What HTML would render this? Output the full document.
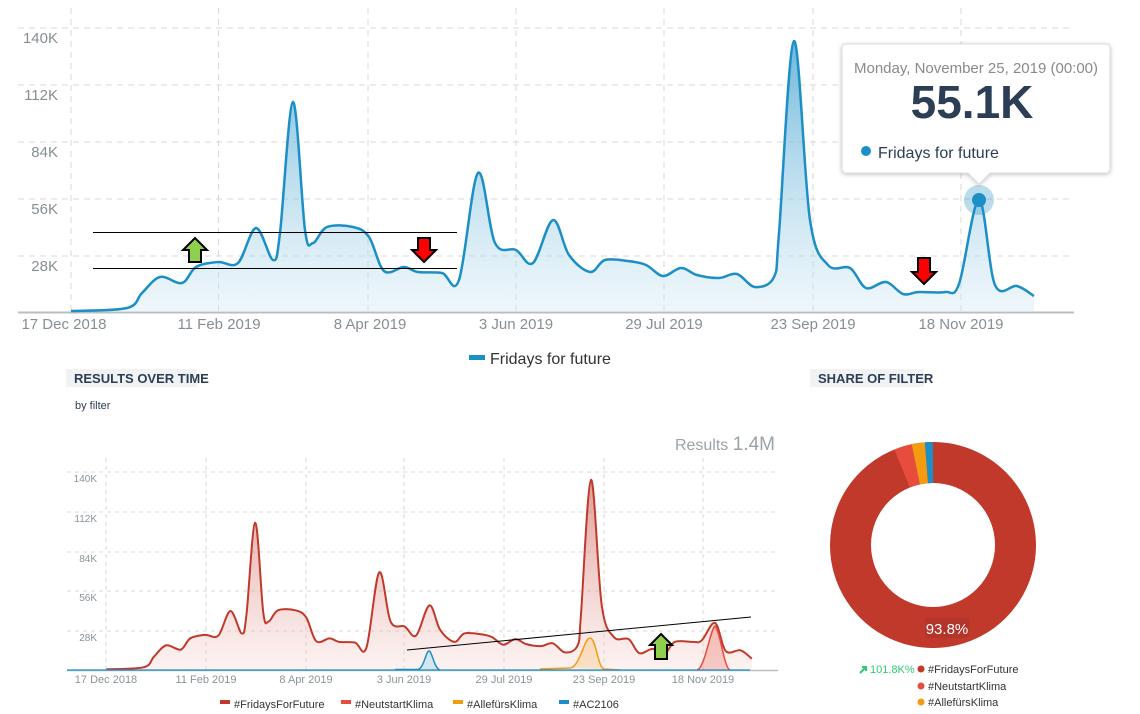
<!DOCTYPE html>
<html><head><meta charset="utf-8"><style>
body{margin:0;width:1140px;height:714px;background:#fff;overflow:hidden;font-family:"Liberation Sans",sans-serif}
svg{position:absolute;left:0;top:0}
</style></head><body>
<svg width="1140" height="714" viewBox="0 0 1140 714" xmlns="http://www.w3.org/2000/svg">
<defs>
<linearGradient id="gb" x1="0" y1="0" x2="0" y2="1"><stop offset="0" stop-color="#3d9fcf" stop-opacity="0.75"/><stop offset="1" stop-color="#cfe7f3" stop-opacity="0.35"/></linearGradient>
<linearGradient id="gr" x1="0" y1="0" x2="0" y2="1"><stop offset="0" stop-color="#c0392b" stop-opacity="0.5"/><stop offset="1" stop-color="#f5d5d2" stop-opacity="0.3"/></linearGradient>
<filter id="sh" x="-10%" y="-10%" width="120%" height="130%"><feDropShadow dx="0" dy="1" stdDeviation="2" flood-opacity="0.25"/></filter>
</defs>
<g stroke="#d8d8d8" stroke-dasharray="6,5" stroke-width="1">
<line x1="18" y1="28" x2="1074" y2="28"/><line x1="18" y1="85" x2="1074" y2="85"/><line x1="18" y1="142" x2="1074" y2="142"/><line x1="18" y1="199" x2="1074" y2="199"/><line x1="18" y1="256" x2="1074" y2="256"/>
<line x1="71" y1="8" x2="71" y2="312"/><line x1="218.5" y1="8" x2="218.5" y2="312"/><line x1="368" y1="8" x2="368" y2="312"/><line x1="516" y1="8" x2="516" y2="312"/><line x1="664" y1="8" x2="664" y2="312"/><line x1="813" y1="8" x2="813" y2="312"/><line x1="961" y1="8" x2="961" y2="312"/>
</g>
<line x1="18" y1="312.5" x2="1074" y2="312.5" stroke="#b8bec2" stroke-width="2"/>
<g font-size="15" fill="#858f94" text-anchor="end">
<text x="58" y="43">140K</text><text x="58" y="100">112K</text><text x="58" y="157">84K</text><text x="58" y="214">56K</text><text x="58" y="271">28K</text></g>
<g font-size="15" fill="#858f94" text-anchor="middle">
<text x="64" y="329">17 Dec 2018</text><text x="219" y="329">11 Feb 2019</text><text x="370" y="329">8 Apr 2019</text><text x="516" y="329">3 Jun 2019</text><text x="664" y="329">29 Jul 2019</text><text x="813" y="329">23 Sep 2019</text><text x="961" y="329">18 Nov 2019</text></g>
<path id="fb" d="M71,311 L127,308 L142,293 L160,277 L182,283 L196,267 L218,262 L238,263 L256,228 L273,260 L280,233 L293,102 L305,230 L313,243 L327,227 L353,227 L369,237 L384,271 L404,267 L418,272 L442,273 L459,280 L478,173 L495,243 L516,250 L533,263 L553,220 L569,255 L590,272 L605,260 L628,261 L646,265 L663,276 L681,268 L697,275 L719,278 L737,274 L755,287 L774,277 L779,233 L794,41 L810,220 L828,265 L850,268 L866,288 L886,282 L903,294 L919,292 L945,292 L959,284 L979,200 L995,285 L1017,286 L1034,296 L1034,312 L71,312 Z" fill="url(#gb)"/>
<polyline id="lb" points="71,311 127,308 142,293 160,277 182,283 196,267 218,262 238,263 256,228 273,260 280,233 293,102 305,230 313,243 327,227 353,227 369,237 384,271 404,267 418,272 442,273 459,280 478,173 495,243 516,250 533,263 553,220 569,255 590,272 605,260 628,261 646,265 663,276 681,268 697,275 719,278 737,274 755,287 774,277 779,233 794,41 810,220 828,265 850,268 866,288 886,282 903,294 919,292 945,292 959,284 979,200 995,285 1017,286 1034,296" fill="none" stroke="#1b8fc6" stroke-width="2.5" stroke-linejoin="round"/>
<line x1="93" y1="232.5" x2="457" y2="232.5" stroke="#000" stroke-width="1"/>
<line x1="93" y1="268.5" x2="457" y2="268.5" stroke="#000" stroke-width="1"/>
<polygon points="195,238 207,250 201,250 201,262 189,262 189,250 183,250" fill="#8fd14f" stroke="#000" stroke-width="2"/>
<polygon points="424,262 436,250 430,250 430,238 418,238 418,250 412,250" fill="#ff0000" stroke="#000" stroke-width="2"/>
<polygon points="924,284 936,272 930,272 930,258 918,258 918,272 912,272" fill="#ff0000" stroke="#000" stroke-width="2"/>
<circle cx="979" cy="200" r="15" fill="#1b8fc6" opacity="0.3"/>
<circle cx="979" cy="200" r="7" fill="#1b8fc6"/>
<g filter="url(#sh)"><path d="M846,44 H1106 a4,4 0 0 1 4,4 V169 a4,4 0 0 1 -4,4 H990 L979,184 L968,173 H846 a4,4 0 0 1 -4,-4 V48 a4,4 0 0 1 4,-4 Z" fill="#fff" stroke="#ddd"/></g>
<text x="976" y="73" font-size="15" fill="#8a8a8a" text-anchor="middle">Monday, November 25, 2019 (00:00)</text>
<text x="972" y="118" font-size="46" font-weight="bold" fill="#2c3e55" text-anchor="middle" font-family="Liberation Sans Narrow,Liberation Sans,sans-serif">55.1K</text>
<circle cx="866" cy="151" r="5" fill="#1b8fc6"/>
<text x="878" y="158" font-size="16" fill="#2c3e55">Fridays for future</text>
<rect x="469" y="355" width="16" height="5" fill="#1b8fc6"/>
<text x="490" y="364" font-size="16" fill="#333">Fridays for future</text>
<rect x="66" y="369" width="131" height="18" fill="#f0f2f4"/>
<text x="74" y="383" font-size="13" font-weight="bold" fill="#2c3e55" font-family="Liberation Sans Narrow,Liberation Sans,sans-serif">RESULTS OVER TIME</text>
<text x="75" y="409" font-size="11" fill="#2c3e55">by filter</text>
<text x="775" y="450" font-size="16" fill="#9aa3a8" text-anchor="end" font-family="Liberation Sans Narrow,Liberation Sans,sans-serif">Results <tspan font-size="19">1.4M</tspan></text>
<rect x="810" y="369" width="114" height="18" fill="#f0f2f4"/>
<text x="818" y="383" font-size="13" font-weight="bold" fill="#2c3e55" font-family="Liberation Sans Narrow,Liberation Sans,sans-serif">SHARE OF FILTER</text>
<g stroke="#dadada" stroke-dasharray="4,4" stroke-width="1">
<line x1="67" y1="472" x2="778" y2="472"/><line x1="67" y1="512" x2="778" y2="512"/><line x1="67" y1="552" x2="778" y2="552"/><line x1="67" y1="591" x2="778" y2="591"/><line x1="67" y1="631" x2="778" y2="631"/>
<line x1="106" y1="458" x2="106" y2="670"/><line x1="206" y1="458" x2="206" y2="670"/><line x1="306" y1="458" x2="306" y2="670"/><line x1="404" y1="458" x2="404" y2="670"/><line x1="504" y1="458" x2="504" y2="670"/><line x1="604" y1="458" x2="604" y2="670"/><line x1="703" y1="458" x2="703" y2="670"/>
</g>
<line x1="67" y1="670.5" x2="778" y2="670.5" stroke="#b8bec2" stroke-width="1.5"/>
<g font-size="10" fill="#8a9499" text-anchor="end" font-family="Liberation Sans Narrow,Liberation Sans,sans-serif">
<text x="97" y="482">140K</text><text x="97" y="522">112K</text><text x="97" y="562">84K</text><text x="97" y="601">56K</text><text x="97" y="641">28K</text></g>
<g font-size="11" fill="#8a9499" text-anchor="middle" font-family="Liberation Sans Narrow,Liberation Sans,sans-serif">
<text x="106" y="683">17 Dec 2018</text><text x="206" y="683">11 Feb 2019</text><text x="306" y="683">8 Apr 2019</text><text x="404" y="683">3 Jun 2019</text><text x="504" y="683">29 Jul 2019</text><text x="604" y="683">23 Sep 2019</text><text x="703" y="683">18 Nov 2019</text></g>
<g transform="matrix(0.6703 0 0 0.7018 58.8 451)">
<path id="fr" d="M71,311 L127,308 L142,293 L160,277 L182,283 L196,267 L218,262 L238,263 L256,228 L273,260 L280,233 L293,102 L305,230 L313,243 L327,227 L353,227 L369,237 L384,271 L404,267 L418,272 L442,273 L459,280 L478,173 L495,243 L516,250 L533,263 L553,220 L569,255 L590,272 L605,260 L628,261 L646,265 L663,276 L681,268 L697,275 L719,278 L737,274 L755,287 L774,277 L779,233 L794,41 L810,220 L828,265 L850,268 L866,288 L886,282 L903,290 L919,272 L945,272 L959,270 L979,245 L995,285 L1017,284 L1034,296 L1034,312 L71,312 Z" fill="url(#gr)"/>
<polyline id="lr" points="71,311 127,308 142,293 160,277 182,283 196,267 218,262 238,263 256,228 273,260 280,233 293,102 305,230 313,243 327,227 353,227 369,237 384,271 404,267 418,272 442,273 459,280 478,173 495,243 516,250 533,263 553,220 569,255 590,272 605,260 628,261 646,265 663,276 681,268 697,275 719,278 737,274 755,287 774,277 779,233 794,41 810,220 828,265 850,268 866,288 886,282 903,290 919,272 945,272 959,270 979,245 995,285 1017,284 1034,296" fill="none" stroke="#c0392b" stroke-width="2" vector-effect="non-scaling-stroke" stroke-linejoin="round"/>
</g>
<path d="M697,670 C705,668 710,630 715,626 C720,630 724,668 730,670 Z" fill="#e74c3c" opacity="0.25"/>
<path d="M697,670 C705,668 710,630 715,626 C720,630 724,668 730,670" fill="none" stroke="#e74c3c" stroke-width="1.5"/>
<path d="M418,670 C424,668 426,651 429,651 C432,651 434,668 440,670 Z" fill="#d6e6ef"/>
<path d="M395,669.5 L418,669.5 C424,668 426,651 429,651 C432,651 434,668 440,670" fill="none" stroke="#1b8fc6" stroke-width="1.5"/>
<path d="M540,669 L570,668 C580,667 584,638 590,638 C596,638 598,668 604,669 L620,670" fill="none" stroke="#f39c12" stroke-width="1.5"/>
<path d="M570,668 C580,667 584,638 590,638 C596,638 598,668 604,669 Z" fill="#f39c12" opacity="0.2"/>
<line x1="67" y1="670" x2="750" y2="670" stroke="#1b8fc6" stroke-width="1.2"/>
<line x1="407" y1="650" x2="751" y2="617" stroke="#000" stroke-width="1"/>
<polygon points="661,634 672,645 667,645 667,659 655,659 655,645 650,645" fill="#8fd14f" stroke="#000" stroke-width="2"/>
<g font-size="11" fill="#333" font-family="Liberation Sans Narrow,Liberation Sans,sans-serif">
<rect x="220" y="700" width="10" height="4" fill="#c0392b"/><text x="234" y="708">#FridaysForFuture</text>
<rect x="341" y="700" width="10" height="4" fill="#e74c3c"/><text x="355" y="708">#NeutstartKlima</text>
<rect x="453" y="700" width="10" height="4" fill="#f39c12"/><text x="467" y="708">#AllefürsKlima</text>
<rect x="559" y="700" width="10" height="4" fill="#1b8fc6"/><text x="573" y="708">#AC2106</text>
</g>
<circle cx="933" cy="545" r="82.5" fill="none" stroke="#c0392b" stroke-width="41"/>
<path d="M902.1,468.5 A82.5,82.5 0 0 1 915.8,464.3" fill="none" stroke="#e74c3c" stroke-width="41"/>
<path d="M915.8,464.3 A82.5,82.5 0 0 1 926.5,462.8" fill="none" stroke="#f39c12" stroke-width="41"/>
<path d="M926.5,462.8 A82.5,82.5 0 0 1 933,462.5" fill="none" stroke="#1b8fc6" stroke-width="41"/>
<rect x="925" y="618" width="44" height="20" rx="3" fill="#a8322a" opacity="0.6"/>
<text x="947" y="634" font-size="15" fill="#fff" text-anchor="middle" font-family="Liberation Sans Narrow,Liberation Sans,sans-serif">93.8%</text>
<path d="M860,673 L866,667 M862,667 H866 V671" stroke="#2ecc71" stroke-width="2" fill="none"/>
<g font-size="11" font-family="Liberation Sans Narrow,Liberation Sans,sans-serif">
<text x="870" y="673" fill="#2ecc71">101.8K%</text>
<circle cx="921" cy="669" r="3.5" fill="#c0392b"/><text x="928" y="673" fill="#333">#FridaysForFuture</text>
<circle cx="921" cy="686" r="3.5" fill="#e74c3c"/><text x="928" y="690" fill="#333">#NeutstartKlima</text>
<circle cx="921" cy="702" r="3.5" fill="#f39c12"/><text x="928" y="706" fill="#333">#AllefürsKlima</text>
</g>
</svg>
<script>
(function(){
function smooth(pts){
 var d="M"+pts[0][0]+","+pts[0][1];
 for(var i=0;i<pts.length-1;i++){
  var p0=pts[i-1]||pts[i],p1=pts[i],p2=pts[i+1],p3=pts[i+2]||p2;
  var c1x=p1[0]+(p2[0]-p0[0])/6,c1y=p1[1]+(p2[1]-p0[1])/6;
  var c2x=p2[0]-(p3[0]-p1[0])/6,c2y=p2[1]-(p3[1]-p1[1])/6;
  c1y=Math.min(c1y,312);c2y=Math.min(c2y,312);
  d+=" C"+c1x.toFixed(1)+","+c1y.toFixed(1)+" "+c2x.toFixed(1)+","+c2y.toFixed(1)+" "+p2[0]+","+p2[1];
 }
 return d;
}
[["lb","fb"],["lr","fr"]].forEach(function(ids){
 var pl=document.getElementById(ids[0]);
 var pts=pl.getAttribute("points").trim().split(/\s+/).map(function(s){return s.split(",").map(Number);});
 var d=smooth(pts);
 var p=document.createElementNS("http://www.w3.org/2000/svg","path");
 for(var i=0;i<pl.attributes.length;i++){var a=pl.attributes[i];if(a.name!="points"&&a.name!="id")p.setAttribute(a.name,a.value);}
 p.setAttribute("d",d);
 pl.parentNode.replaceChild(p,pl);
 document.getElementById(ids[1]).setAttribute("d",d+" L"+pts[pts.length-1][0]+",312 L"+pts[0][0]+",312 Z");
});
})();
</script>
</body></html>
